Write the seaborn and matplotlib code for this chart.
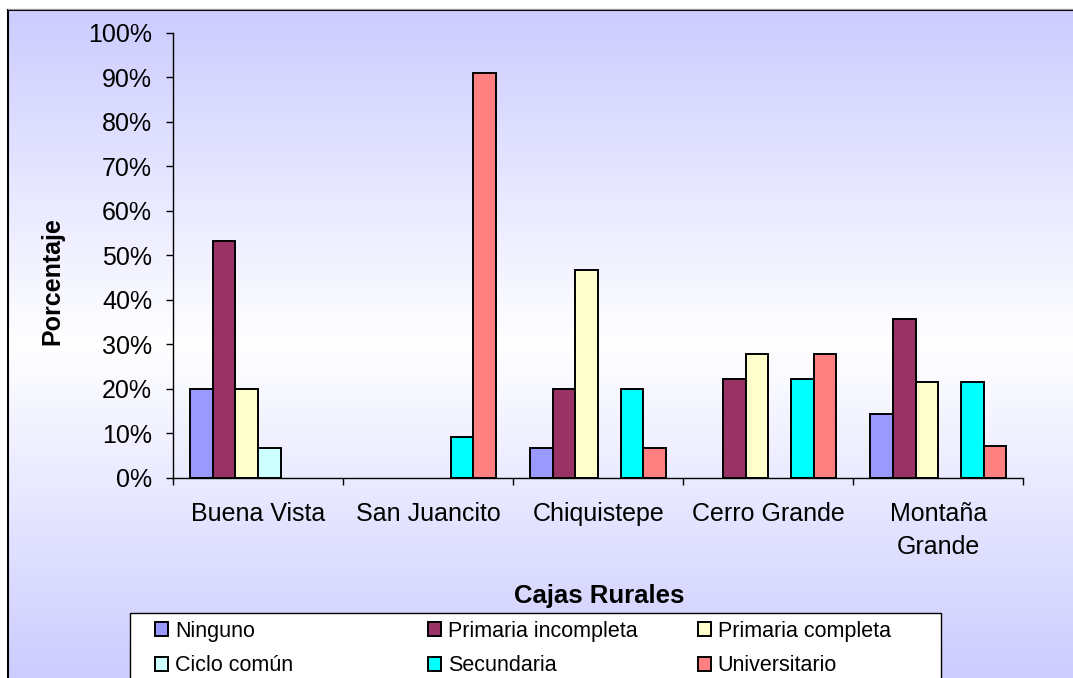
import numpy as np
import pandas as pd
import matplotlib
matplotlib.use("Agg")
import matplotlib.pyplot as plt
from matplotlib.patches import Patch, Rectangle
from matplotlib.lines import Line2D
import seaborn as sns

# ---------------- data ----------------
categories = ["Buena Vista", "San Juancito", "Chiquistepe", "Cerro Grande", "Montaña Grande"]
tick_labels = ["Buena Vista", "San Juancito", "Chiquistepe", "Cerro Grande", "Montaña\nGrande"]
series = ["Ninguno", "Primaria incompleta", "Primaria completa",
          "Ciclo común", "Secundaria", "Universitario"]
ninguno = [20.0, 0.0, 6.7, 0.0, 14.3]
primaria_incompleta = [53.3, 0.0, 20.0, 22.2, 35.7]
primaria_completa = [20.0, 0.0, 46.7, 27.8, 21.4]
ciclo_comun = [6.7, 0.0, 0.0, 0.0, 0.0]
secundaria = [0.0, 9.1, 20.0, 22.2, 21.4]
universitario = [0.0, 90.9, 6.7, 27.8, 7.1]
y_ticks = [0, 10, 20, 30, 40, 50, 60, 70, 80, 90, 100]
colors = ["#9999FF", "#993366", "#FFFFCC", "#CCFFFF", "#00FFFF", "#FF8080"]

values = [ninguno, primaria_incompleta, primaria_completa, ciclo_comun, secundaria, universitario]
rows = []
for s, vals in zip(series, values):
    for c, v in zip(categories, vals):
        rows.append({"caja": c, "nivel": s, "pct": v})
df = pd.DataFrame(rows)

# ---------------- figure ----------------
W, H = 1073, 678
DPI = 100
plt.rcParams["font.family"] = ["Liberation Sans", "DejaVu Sans"]

def fx(x):
    return x / W

def fy(y):
    return 1 - y / H

fig = plt.figure(figsize=(W / DPI, H / DPI), dpi=DPI, facecolor="white")

# background gradient panel
bg = fig.add_axes([fx(8), 0, 1 - fx(8), fy(10)])
bg.set_zorder(-10)
ys = np.linspace(10, 678, 400)
f = np.abs(ys - 344) / 334.0
lav = np.array([204, 204, 255]) / 255.0
wht = np.array([1.0, 1.0, 1.0])
grad = (wht[None, :] * (1 - f[:, None]) + lav[None, :] * f[:, None])[:, None, :]
bg.imshow(grad, aspect="auto", extent=[0, 1, 0, 1], interpolation="bilinear")
bg.set_xlim(0, 1)
bg.set_ylim(0, 1)
bg.set_xticks([])
bg.set_yticks([])
for side in ["right", "bottom"]:
    bg.spines[side].set_visible(False)
for side in ["left", "top"]:
    bg.spines[side].set_color("black")
    bg.spines[side].set_linewidth(1.5)
fig.add_artist(Line2D([fx(8), 1], [fy(8.8), fy(8.8)], color="#999999", lw=0.8,
                      transform=fig.transFigure))

# main axes
ax = fig.add_axes([fx(173), fy(477.7), (1023.3 - 173) / W, (477.7 - 32.7) / H])
ax.set_facecolor("none")

sns.barplot(data=df, x="caja", y="pct", hue="nivel", order=categories, hue_order=series,
            palette=dict(zip(series, colors)), saturation=1, edgecolor="black",
            linewidth=1.4, errorbar=None, width=0.8, legend=False, ax=ax)

for p in ax.patches:
    if p.get_height() == 0:
        p.set_linewidth(0)

ax.set_ylim(0, 100)
ax.set_xlim(-0.5, len(categories) - 0.5)
ax.set_yticks(y_ticks)
ax.set_yticklabels([f"{v}%" for v in y_ticks], fontsize=18)
ax.set_xticks(range(len(categories)))
ax.set_xticklabels(tick_labels, fontsize=18, linespacing=1.45)
ax.set_xticks(np.arange(-0.5, len(categories), 1.0), minor=True)
ax.tick_params(axis="x", which="major", length=0, pad=17.5)
ax.tick_params(axis="x", which="minor", length=5, width=1, direction="out", color="black")
ax.tick_params(axis="y", which="major", length=5, width=1, direction="out", pad=10,
               color="black", labelcolor="black")
for side in ["top", "right"]:
    ax.spines[side].set_visible(False)
for side in ["left", "bottom"]:
    ax.spines[side].set_color("black")
    ax.spines[side].set_linewidth(1.0)

ax.set_xlabel("Cajas Rurales", fontsize=18.5, fontweight="bold")
ax.xaxis.set_label_coords(0.501, -0.24)
ax.set_ylabel("Porcentaje", fontsize=18, fontweight="bold")
ax.yaxis.set_label_coords(-0.128, 0.441)

# legend box
rect = Rectangle((fx(130), fy(700)), fx(941) - fx(130), fy(613) - fy(700),
                 transform=fig.transFigure, facecolor="white", edgecolor="black",
                 linewidth=1.0, zorder=1)
fig.add_artist(rect)

handles = {s: Patch(facecolor=c, edgecolor="black", linewidth=1.4) for s, c in zip(series, colors)}
columns = [(155, ["Ninguno", "Ciclo común"]),
           (428, ["Primaria incompleta", "Secundaria"]),
           (698, ["Primaria completa", "Universitario"])]
for x0, labs in columns:
    fig.legend([handles[l] for l in labs], labs, loc="upper left",
               bbox_to_anchor=(fx(x0), fy(621)), bbox_transform=fig.transFigure,
               frameon=False, borderpad=0, borderaxespad=0, handlelength=0.62,
               handleheight=0.62, handletextpad=0.3, labelspacing=0.62,
               fontsize=15.5)

fig.savefig("out.png", dpi=DPI, facecolor="white")
